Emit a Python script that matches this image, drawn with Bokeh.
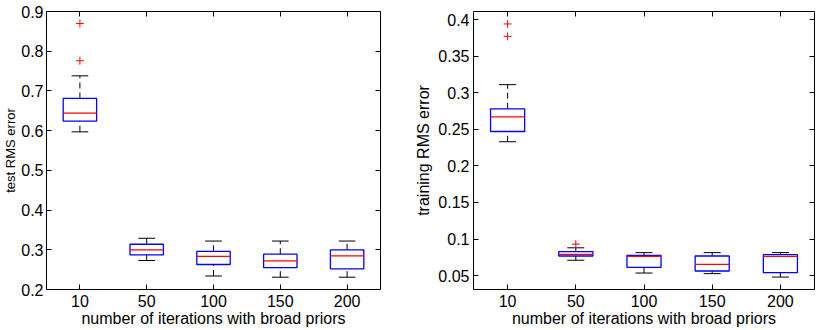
import numpy as np
from bokeh.plotting import figure
from bokeh.layouts import row
from bokeh.models import ColumnDataSource, FixedTicker, LinearAxis, Range1d
from bokeh.embed import file_html
from bokeh.resources import INLINE

categories = ["10", "50", "100", "150", "200"]
x_label = "number of iterations with broad priors"

# test RMS error (left panel)
test_lo = [0.597, 0.273, 0.234, 0.231, 0.231]
test_q1 = [0.624, 0.287, 0.263, 0.255, 0.252]
test_med = [0.644, 0.300, 0.2835, 0.272, 0.2845]
test_q3 = [0.681, 0.314, 0.296, 0.289, 0.300]
test_hi = [0.738, 0.329, 0.322, 0.322, 0.322]
test_out_cat = ["10", "10"]
test_out_val = [0.870, 0.776]
test_yticks = [0.2, 0.3, 0.4, 0.5, 0.6, 0.7, 0.8, 0.9]
test_ytick_labels = ["0.2", "0.3", "0.4", "0.5", "0.6", "0.7", "0.8", "0.9"]

# training RMS error (right panel)
train_lo = [0.233, 0.071, 0.0535, 0.0527, 0.048]
train_q1 = [0.247, 0.0768, 0.0613, 0.0563, 0.0541]
train_med = [0.267, 0.079, 0.0764, 0.0654, 0.0764]
train_q3 = [0.278, 0.0828, 0.0777, 0.0768, 0.0787]
train_hi = [0.311, 0.088, 0.0814, 0.0814, 0.0814]
train_out_cat = ["10", "10", "50"]
train_out_val = [0.394, 0.377, 0.093]
train_yticks = [0.05, 0.1, 0.15, 0.2, 0.25, 0.3, 0.35, 0.4]
train_ytick_labels = ["0.05", "0.1", "0.15", "0.2", "0.25", "0.3", "0.35", "0.4"]

FONT = "Liberation Sans"
FS = "16px"


def make_panel(lo, q1, med, q3, hi, out_cat, out_val, yr, yticks, ylabels,
               width, left, right, ylabel, ylabel_fs, ylabel_standoff, ytick_standoff):
    xs = np.arange(1, len(categories) + 1, dtype=float)
    pos = {c: x for c, x in zip(categories, xs)}
    bw = 0.5
    cw = 0.25
    src = ColumnDataSource(dict(
        x=xs, lo=lo, q1=q1, med=med, q3=q3, hi=hi,
        bl=xs - bw / 2, br=xs + bw / 2, cl=xs - cw / 2, cr=xs + cw / 2))
    p = figure(width=width, height=330, output_backend="svg", toolbar_location=None,
               x_range=Range1d(0.5, 5.5), y_range=Range1d(*yr),
               min_border_left=left, min_border_right=right,
               min_border_top=11, min_border_bottom=41,
               background_fill_color="white", border_fill_color="white")
    p.xgrid.visible = False
    p.ygrid.visible = False
    p.outline_line_color = "black"
    p.outline_line_width = 1
    p.outline_line_alpha = 1

    # whiskers (dashed)
    p.segment(x0="x", y0="q3", x1="x", y1="hi", source=src, line_color="black",
              line_width=1, line_dash="6 4")
    p.segment(x0="x", y0="lo", x1="x", y1="q1", source=src, line_color="black",
              line_width=1, line_dash="6 4")
    # caps
    p.segment(x0="cl", y0="hi", x1="cr", y1="hi", source=src, line_color="black", line_width=1)
    p.segment(x0="cl", y0="lo", x1="cr", y1="lo", source=src, line_color="black", line_width=1)
    # boxes
    p.quad(left="bl", right="br", bottom="q1", top="q3", source=src, fill_color=None,
           line_color="#0000ff", line_width=1.3)
    # medians
    p.segment(x0="bl", y0="med", x1="br", y1="med", source=src, line_color="#ff0000",
              line_width=1.3)
    # outliers
    p.scatter(x=[pos[c] for c in out_cat], y=out_val, marker="cross", size=8,
              line_color="#ff0000", line_width=1)

    xt = FixedTicker(ticks=list(xs))
    yt = FixedTicker(ticks=yticks)
    xover = {float(x): c for x, c in zip(xs, categories)}
    yover = {float(t): l for t, l in zip(yticks, ylabels)}

    for ax in list(p.xaxis) + list(p.yaxis):
        ax.axis_line_color = None
        ax.major_tick_in = 5
        ax.major_tick_out = 0
        ax.minor_tick_line_color = None
        ax.major_label_text_font = FONT
        ax.major_label_text_font_size = FS
        ax.major_label_text_color = "black"
        ax.axis_label_text_font = FONT
        ax.axis_label_text_font_size = FS
        ax.axis_label_text_font_style = "normal"
        ax.axis_label_text_color = "black"
    for ax in p.xaxis:
        ax.ticker = xt
        ax.major_label_overrides = xover
        ax.axis_label = x_label
        ax.axis_label_standoff = 0
        ax.major_label_standoff = 5
    for ax in p.yaxis:
        ax.ticker = yt
        ax.major_label_overrides = yover
        ax.major_label_standoff = ytick_standoff
        ax.axis_label = ylabel
        ax.axis_label_standoff = ylabel_standoff
        ax.axis_label_text_font_size = ylabel_fs

    top = LinearAxis(ticker=xt, major_label_overrides={float(x): "" for x in xs},
                     axis_line_color=None, major_tick_in=5, major_tick_out=0,
                     minor_tick_line_color=None, major_label_standoff=0,
                     major_label_text_font_size="1px")
    rgt = LinearAxis(ticker=yt, major_label_overrides={float(t): "" for t in yticks},
                     axis_line_color=None, major_tick_in=5, major_tick_out=0,
                     minor_tick_line_color=None, major_label_standoff=0,
                     major_label_text_font_size="1px")
    p.add_layout(top, "above")
    p.add_layout(rgt, "right")
    return p


p1 = make_panel(test_lo, test_q1, test_med, test_q3, test_hi, test_out_cat, test_out_val,
                (0.2, 0.9), test_yticks, test_ytick_labels, 410, 39, 30,
                "test RMS error", "13px", 0, 3)
p2 = make_panel(train_lo, train_q1, train_med, train_q3, train_hi, train_out_cat,
                train_out_val, (0.031, 0.411), train_yticks, train_ytick_labels,
                414, 63, 10, "training RMS error", FS, 3, 4)

layout = row(p1, p2)
open("out.html", "w").write(file_html(layout, INLINE))
